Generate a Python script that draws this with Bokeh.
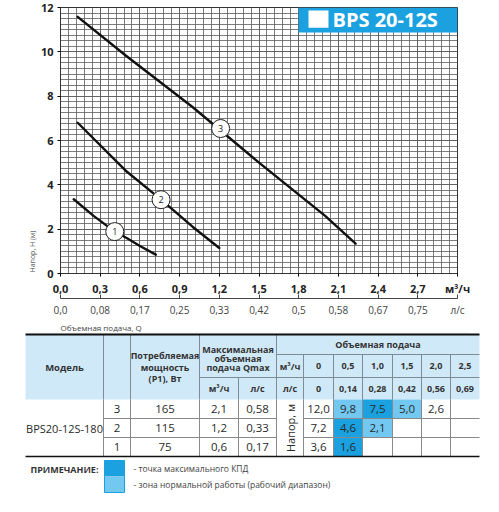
import numpy as np
from bokeh.plotting import figure
from bokeh.models import (Range1d, FixedTicker, LinearAxis, CustomJSTickFormatter,
                          BoxAnnotation, Label, Title)
from bokeh.layouts import column
from bokeh.core.properties import value
from bokeh.embed import file_html
from bokeh.resources import INLINE

FONT = "Open Sans"

# ---------------- data ----------------
# pump curves: Q (m3/h) -> H (m)
curve1_q = [0.10, 0.25, 0.41, 0.50, 0.60, 0.72]
curve1_h = [3.35, 2.60, 1.89, 1.60, 1.24, 0.85]
curve2_q = [0.13, 0.50, 0.76, 1.00, 1.20]
curve2_h = [6.80, 4.60, 3.33, 2.10, 1.15]
curve3_q = [0.13, 0.50, 1.00, 1.50, 2.00, 2.23]
curve3_h = [11.58, 9.80, 7.50, 5.00, 2.60, 1.35]
marker_q = [0.41, 0.76, 1.21]
marker_h = [1.89, 3.33, 6.54]
marker_labels = ["1", "2", "3"]

x_ticks = [0.0, 0.3, 0.6, 0.9, 1.2, 1.5, 1.8, 2.1, 2.4, 2.7, 3.0]
x_tick_labels = ["0,0", "0,3", "0,6", "0,9", "1,2", "1,5", "1,8", "2,1", "2,4", "2,7", "м³/ч"]
ls_ticks = [0.0, 0.3, 0.6, 0.9, 1.2, 1.5, 1.8, 2.1, 2.4, 2.7, 3.0]
ls_tick_labels = ["0,0", "0,08", "0,17", "0,25", "0,33", "0,42", "0,5", "0,58", "0,67", "0,75", "л/с"]
y_ticks = [0, 2, 4, 6, 8, 10, 12]

title_text = "BPS 20-12S"
x_title = "Объемная подача, Q"
y_title = "Напор, H (м)"

# table
model_name = "BPS20-12S-180"
speeds = ["3", "2", "1"]
power_w = ["165", "115", "75"]
qmax_m3h = ["2,1", "1,2", "0,6"]
qmax_ls = ["0,58", "0,33", "0,17"]
flow_m3h = ["0", "0,5", "1,0", "1,5", "2,0", "2,5"]
flow_ls = ["0", "0,14", "0,28", "0,42", "0,56", "0,69"]
head_rows = [["12,0", "9,8", "7,5", "5,0", "2,6", ""],
             ["7,2", "4,6", "2,1", "", "", ""],
             ["3,6", "1,6", "", "", "", ""]]
# 'm' = max efficiency point, 'n' = normal working zone
zone_rows = [["", "n", "m", "n", "", ""],
             ["", "m", "n", "", "", ""],
             ["", "m", "", "", "", ""]]

# ---------------- styles ----------------
BLUE = "#1ba1e0"
LIGHT = "#72c8f1"
HEAD_BG = "#d0e9f8"
GRID = "#5c5c5c"

# ---------------- chart ----------------
p = figure(width=483, height=332, x_range=Range1d(0, 3.0), y_range=Range1d(0, 12),
           output_backend="svg", toolbar_location=None,
           min_border_left=60, min_border_right=26, min_border_top=7, min_border_bottom=49)
p.background_fill_color = "white"
p.outline_line_color = "#333333"
p.outline_line_width = 1


def tick_fmt(ticks, labels):
    return CustomJSTickFormatter(args=dict(tv=ticks, lb=labels), code="""
        for (let i = 0; i < tv.length; i++) { if (Math.abs(tv[i] - tick) < 1e-6) return lb[i]; }
        return '';
    """)


xt = FixedTicker(ticks=x_ticks, minor_ticks=[round(v, 4) for v in np.arange(0, 3.0001, 0.06)])
yt = FixedTicker(ticks=y_ticks, minor_ticks=[round(v, 4) for v in np.arange(0, 12.001, 0.25)])

ax1 = p.below[0]
ax1.ticker = xt
ax1.formatter = tick_fmt(x_ticks, x_tick_labels)
ax1.axis_line_color = "#333333"
ax1.major_tick_out = 3
ax1.major_tick_in = 0
ax1.minor_tick_line_color = None
ax1.major_label_standoff = 3
ax1.major_label_text_font = FONT
ax1.major_label_text_font_size = "11px"
ax1.major_label_text_font_style = "bold"
ax1.major_label_text_color = "#222222"

ay = p.left[0]
ay.ticker = yt
ay.axis_line_color = "#333333"
ay.major_tick_out = 3
ay.major_tick_in = 0
ay.minor_tick_line_color = None
ay.major_label_standoff = 3
ay.major_label_text_font = FONT
ay.major_label_text_font_size = "11px"
ay.major_label_text_font_style = "bold"
ay.major_label_text_color = "#222222"

p.xgrid.ticker = xt
p.ygrid.ticker = yt
for g in (p.xgrid[0], p.ygrid[0]):
    g.grid_line_color = GRID
    g.grid_line_width = 0.8
    g.minor_grid_line_color = GRID
    g.minor_grid_line_width = 0.8

ax2 = LinearAxis(ticker=FixedTicker(ticks=ls_ticks), formatter=tick_fmt(ls_ticks, ls_tick_labels))
ax2.axis_line_color = "#444444"
ax2.major_tick_in = 4
ax2.major_tick_out = 0
ax2.major_tick_line_color = "#444444"
ax2.minor_tick_line_color = None
ax2.major_label_standoff = 4
ax2.major_label_text_font = FONT
ax2.major_label_text_font_size = "10px"
ax2.major_label_text_color = "#444444"
p.add_layout(ax2, "below")

p.add_layout(Title(text=x_title, align="left", text_font=FONT, text_font_size="8px",
                   text_font_style="normal", text_color="#444444", standoff=0, offset=0),
             "below")
p.add_layout(Title(text=y_title, align="left", text_font=FONT, text_font_size="7px",
                   text_font_style="normal", text_color="#555555", standoff=2, offset=1),
             "left")

# curves
for q, h in ((curve1_q, curve1_h), (curve2_q, curve2_h), (curve3_q, curve3_h)):
    p.line(q, h, line_width=2.4, line_color="#111111", line_cap="round", line_join="round")
p.scatter(marker_q, marker_h, size=18, fill_color="white", line_color="#222222", line_width=1)
p.text(marker_q, marker_h, text=marker_labels, text_font=value(FONT), text_font_size="9px",
       text_align="center", text_baseline="middle", text_color="#222222")

# title box
p.add_layout(BoxAnnotation(left=1.80, right=3.0, top=12, bottom=10.87,
                           fill_color=BLUE, fill_alpha=1, line_color=None))
p.add_layout(BoxAnnotation(left=1.874, right=2.025, top=11.87, bottom=11.09,
                           fill_color="white", fill_alpha=1, line_color=None))
p.add_layout(Label(x=2.055, y=11.46, text=title_text, text_font=FONT, text_font_size="20px",
                   text_font_style="bold", text_color="white", text_baseline="middle"))

# ---------------- table ----------------
TH = 164
t = figure(width=483, height=TH, x_range=Range1d(0, 483), y_range=Range1d(TH, 0),
           x_axis_type=None, y_axis_type=None, output_backend="svg", toolbar_location=None,
           min_border=0)
t.outline_line_color = None
t.grid.visible = False

for fig in (p, t):
    if "frame_align" in fig.properties():
        fig.frame_align = False

E = [25, 103, 130, 199, 238, 276, 303, 333, 362, 392, 421, 450, 479]
TOP, HR1, HR2, HB = 2, 22, 45, 67
R = [67, 86, 105, 124]
mid = lambda a, b: (a + b) / 2

# faint separator above table
t.segment([25], [0.5], [470], [0.5], line_color="#e2e2e2", line_width=1)

# header background
t.quad(left=[E[0]], right=[E[-1]], top=[TOP], bottom=[HB], fill_color=HEAD_BG, line_color=None)

# highlighted cells
hl_l, hl_r, hl_t, hl_b, hl_c = [], [], [], [], []
for ri, zr in enumerate(zone_rows):
    for ci, z in enumerate(zr):
        if z:
            hl_l.append(E[6 + ci]); hl_r.append(E[7 + ci])
            hl_t.append(R[ri]); hl_b.append(R[ri + 1])
            hl_c.append(BLUE if z == "m" else LIGHT)
t.quad(left=hl_l, right=hl_r, top=hl_t, bottom=hl_b, fill_color=hl_c, line_color=None)

# header lines
hx0, hy0, hx1, hy1 = [], [], [], []
for x in (E[1], E[2], E[3], E[5]):
    hx0.append(x); hy0.append(TOP); hx1.append(x); hy1.append(HB)
hx0.append(E[4]); hy0.append(HR2); hx1.append(E[4]); hy1.append(HB)
for x in E[6:12]:
    hx0.append(x); hy0.append(HR1); hx1.append(x); hy1.append(HB)
hx0 += [E[3], E[5], E[5]]; hx1 += [E[5], E[12], E[12]]
hy0 += [HR2, HR1, HR2]; hy1 += [HR2, HR1, HR2]
t.segment(hx0, hy0, hx1, hy1, line_color="#7d8c95", line_width=1)

# body lines
bx0, by0, bx1, by1 = [], [], [], []
for x in E[1:12]:
    bx0.append(x); by0.append(HB); bx1.append(x); by1.append(R[-1])
for y in R[1:3]:
    bx0 += [E[1], E[6]]; bx1 += [E[5], E[12]]; by0 += [y, y]; by1 += [y, y]
t.segment(bx0, by0, bx1, by1, line_color="#8a8a8a", line_width=1)

# top / bottom rules
t.segment([E[0], E[0]], [TOP, R[-1]], [E[-1], E[-1]], [TOP, R[-1]], line_color="#111111",
          line_width=[2, 1.6])


def txt(xs, ys, texts, size, bold=False, color="#2a2a2a", align="center", angle=0.0):
    t.text(xs, ys, text=texts, text_font=value(FONT), text_font_size=size,
           text_font_style="bold" if bold else "normal", text_color=color,
           text_align=align, text_baseline="middle", angle=angle)


HC = "#333333"
txt([mid(E[0], E[1])], [35], ["Модель"], "9.5px", True, HC)
txt([mid(E[2], E[3])] * 3, [23, 34.5, 46], ["Потребляемая", "мощность", "(Р1), Вт"], "9px", True, HC)
txt([mid(E[3], E[5])] * 3, [17, 26, 35], ["Максимальная", "объемная", "подача Qmax"], "9px", True, HC)
txt([mid(E[3], E[4]), mid(E[4], E[5])], [56, 56], ["м³/ч", "л/с"], "9px", True, HC)
txt([mid(E[5], E[12])], [12], ["Объемная подача"], "9px", True, HC)
cx = [mid(E[6 + i], E[7 + i]) for i in range(6)]
txt([mid(E[5], E[6])] + cx, [33.5] * 7, ["м³/ч"] + flow_m3h, "9px", True, HC)
txt([mid(E[5], E[6])] + cx, [56] * 7, ["л/с"] + flow_ls, "9px", True, HC)

rc = [mid(R[i], R[i + 1]) for i in range(3)]
txt([mid(E[0], E[1])], [rc[1]], [model_name], "11px")
txt([mid(E[1], E[2])] * 3, rc, speeds, "11.5px")
txt([mid(E[2], E[3])] * 3, rc, power_w, "11.5px")
txt([mid(E[3], E[4])] * 3, rc, qmax_m3h, "11.5px")
txt([mid(E[4], E[5])] * 3, rc, qmax_ls, "11.5px")
txt([mid(E[5], E[6])], [rc[1]], ["Напор, м"], "11px", angle=np.pi / 2)
vx, vy, vt = [], [], []
for ri, row in enumerate(head_rows):
    for ci, v in enumerate(row):
        if v:
            vx.append(cx[ci]); vy.append(rc[ri]); vt.append(v)
txt(vx, vy, vt, "11.5px")

# legend
t.quad(left=[104, 104], right=[124, 124], top=[128, 144], bottom=[144, 160],
       fill_color=[BLUE, LIGHT], line_color=None)
t.quad(left=[104], right=[124], top=[128], bottom=[160], fill_color=None, line_color=BLUE,
       line_width=1)
txt([30], [137], ["ПРИМЕЧАНИЕ:"], "9px", True, HC, align="left")
txt([133, 133], [136, 152], ["- точка максимального КПД",
                             "- зона нормальной работы (рабочий диапазон)"],
    "8.5px", False, "#444444", align="left")

layout = column(p, t, spacing=0)
open("out.html", "w").write(file_html(layout, INLINE))
